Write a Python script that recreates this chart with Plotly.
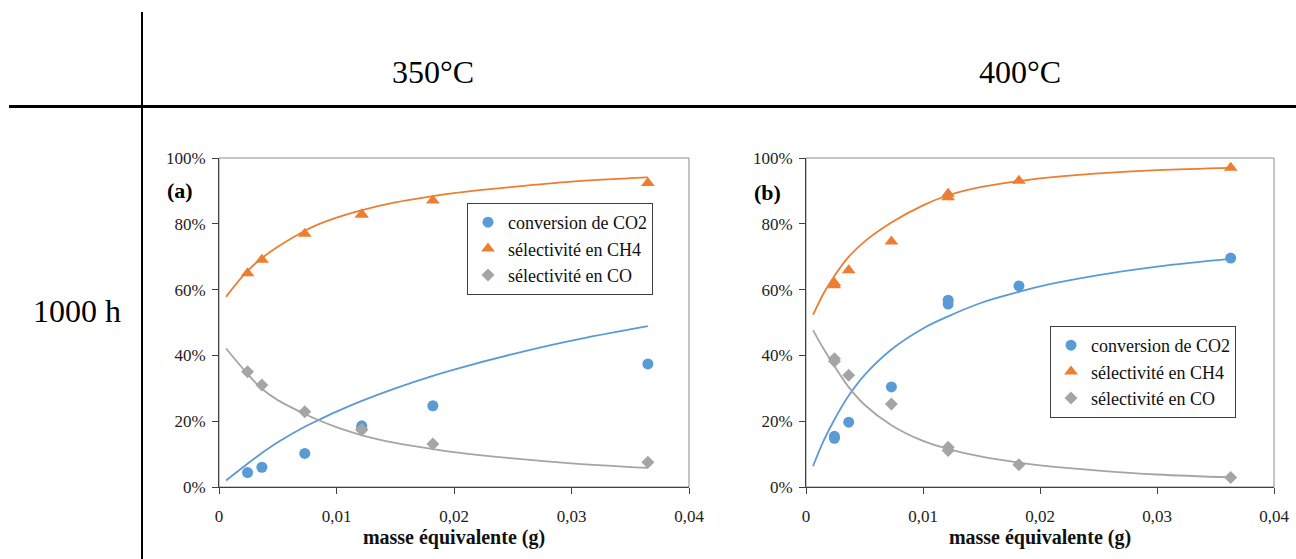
import plotly.graph_objects as go

# ---------------- data ----------------
headers = ["350°C", "400°C"]
row_label = "1000 h"
panel_labels = ["(a)", "(b)"]
series_names = ["conversion de CO2", "sélectivité en CH4", "sélectivité en CO"]

x_tick_vals = [0, 0.01, 0.02, 0.03, 0.04]
x_tick_text = ["0", "0,01", "0,02", "0,03", "0,04"]
y_tick_vals = [0, 20, 40, 60, 80, 100]
y_tick_text = ["0%", "20%", "40%", "60%", "80%", "100%"]
x_title = "masse équivalente (g)"

# panel (a) 350°C - measured points
a_x = [0.00243, 0.00365, 0.0073, 0.01215, 0.01215, 0.0182, 0.0365]
a_co2 = [4.4, 6.0, 10.2, 18.0, 18.6, 24.7, 37.4]
a_ch4 = [65.0, 69.1, 77.0, 82.8, 82.8, 87.1, 92.4]
a_co = [35.0, 31.0, 22.9, 17.4, 17.4, 13.1, 7.5]

# panel (a) trend curves
a_fit_x = [0.0006, 0.0024, 0.0036, 0.0050, 0.0073, 0.0085, 0.0100, 0.0121, 0.0150, 0.0182, 0.0200, 0.0250, 0.0300, 0.0365]
a_fit_co2 = [2.0, 7.0, 10.2, 13.6, 18.3, 20.4, 22.9, 26.1, 30.0, 33.8, 35.7, 40.4, 44.5, 48.9]
a_fit_ch4 = [57.8, 65.6, 69.4, 73.0, 77.9, 79.9, 81.9, 84.1, 86.5, 88.4, 89.3, 91.2, 92.8, 94.1]
a_fit_co = [42.1, 34.5, 30.0, 26.4, 22.2, 20.3, 18.2, 15.8, 13.4, 11.5, 10.6, 8.7, 7.2, 5.8]

# panel (b) 400°C - measured points
b_x = [0.00243, 0.00243, 0.00365, 0.0073, 0.01215, 0.01215, 0.0182, 0.0363]
b_co2 = [14.8, 15.4, 19.7, 30.4, 56.8, 55.6, 61.1, 69.6]
b_ch4 = [62.0, 61.3, 65.9, 74.6, 89.1, 88.1, 93.1, 97.0]
b_co = [38.2, 39.0, 34.0, 25.2, 12.1, 11.1, 6.8, 2.9]

# panel (b) trend curves
b_fit_x = [0.0006, 0.0015, 0.0024, 0.0036, 0.0050, 0.0073, 0.0100, 0.0121, 0.0150, 0.0182, 0.0200, 0.0250, 0.0300, 0.0365]
b_fit_co2 = [6.3, 14.0, 20.3, 27.5, 34.0, 41.8, 48.2, 51.8, 56.0, 59.3, 61.0, 64.4, 67.0, 69.4]
b_fit_ch4 = [52.3, 58.8, 64.0, 69.8, 74.6, 80.4, 85.6, 88.6, 91.2, 93.0, 93.8, 95.3, 96.3, 97.0]
b_fit_co = [47.7, 42.0, 36.9, 30.6, 25.0, 18.8, 14.0, 11.6, 9.2, 7.4, 6.6, 5.0, 3.8, 2.9]

# ---------------- styles ----------------
BLUE = "#5B9BD5"
ORANGE = "#ED7D31"
GREY = "#A5A5A5"
FONT = "Liberation Serif"
W, H = 1296, 559

fig = go.Figure()

panels = [
    ("x", "y", "legend", a_x, a_co2, a_ch4, a_co, a_fit_x, a_fit_co2, a_fit_ch4, a_fit_co),
    ("x2", "y2", "legend2", b_x, b_co2, b_ch4, b_co, b_fit_x, b_fit_co2, b_fit_ch4, b_fit_co),
]
for xa, ya, leg, px, pco2, pch4, pco, fx, fco2, fch4, fco in panels:
    for fy, col in [(fco2, BLUE), (fch4, ORANGE), (fco, GREY)]:
        fig.add_trace(go.Scatter(x=fx, y=fy, mode="lines", line=dict(color=col, width=1.8, shape="spline", smoothing=1.0),
                                 xaxis=xa, yaxis=ya, showlegend=False, hoverinfo="skip"))
    for name, py, col, sym, sz in [(series_names[0], pco2, BLUE, "circle", 11),
                                   (series_names[1], pch4, ORANGE, "triangle-up", 12),
                                   (series_names[2], pco, GREY, "diamond", 10)]:
        fig.add_trace(go.Scatter(x=px, y=py, mode="markers", name=name,
                                 marker=dict(color=col, symbol=sym, size=sz, line=dict(width=0)),
                                 xaxis=xa, yaxis=ya, legend=leg))

# axis domains (paper fractions from pixel positions)
ax_a = (219 / W, 689 / W)
ax_b = (806 / W, 1274 / W)
y_dom = (1 - 487 / H, 1 - 158 / H)

axis_common = dict(showgrid=False, zeroline=False, showline=True, linecolor="#404040", linewidth=1,
                   ticks="outside", ticklen=6, tickcolor="#404040", automargin=False,
                   tickfont=dict(family=FONT, size=17, color="#222"))

title_font = dict(family=FONT, size=20, color="#111")
legend_common = dict(xanchor="center", yanchor="top", bgcolor="white",
                     bordercolor="#404040", borderwidth=1, font=dict(family=FONT, size=18, color="#111"),
                     itemwidth=30, tracegroupgap=6)

xaxis_extra = dict(range=[0, 0.04], tickvals=x_tick_vals, ticktext=x_tick_text, ticklabelstandoff=8,
                   title=dict(text="<b>" + x_title + "</b>", font=title_font, standoff=0))
yaxis_extra = dict(domain=y_dom, range=[0, 100], tickvals=y_tick_vals, ticktext=y_tick_text, ticklabelstandoff=3)

fig.update_layout(
    width=W, height=H, margin=dict(l=0, r=0, t=0, b=0, pad=0, autoexpand=False),
    paper_bgcolor="white", plot_bgcolor="white",
    xaxis=dict(domain=ax_a, anchor="y", **xaxis_extra, **axis_common),
    yaxis=dict(anchor="x", **yaxis_extra, **axis_common),
    xaxis2=dict(domain=ax_b, anchor="y2", **xaxis_extra, **axis_common),
    yaxis2=dict(anchor="x2", **yaxis_extra, **axis_common),
    legend=dict(x=560 / W, y=1 - 203 / H, **legend_common),
    legend2=dict(x=1143 / W, y=1 - 326 / H, **legend_common),
    showlegend=True,
)

# plot-area frames (top/right in grey)
for xr, yr in [("x domain", "y domain"), ("x2 domain", "y2 domain")]:
    fig.add_shape(type="rect", xref=xr, yref=yr, x0=0, x1=1, y0=0, y1=1,
                  line=dict(color="#8c8c8c", width=1), layer="below")

# table lines
fig.add_shape(type="line", xref="paper", yref="paper", x0=9 / W, x1=1, y0=1 - 106.5 / H, y1=1 - 106.5 / H,
              line=dict(color="black", width=3))
fig.add_shape(type="line", xref="paper", yref="paper", x0=142 / W, x1=142 / W, y0=0, y1=1 - 12 / H,
              line=dict(color="black", width=2))

# headers and labels
def label(text, px, py, size, bold=False):
    fig.add_annotation(text=("<b>" + text + "</b>") if bold else text, x=px / W, y=1 - py / H,
                       xref="paper", yref="paper", xanchor="center", yanchor="middle", showarrow=False,
                       font=dict(family=FONT, size=size, color="black"))

label(headers[0], 433, 72, 32)
label(headers[1], 1020, 72, 32)
label(row_label, 77, 311, 32)
label(panel_labels[0], 180, 190, 22, bold=True)
label(panel_labels[1], 767, 192, 22, bold=True)

fig.write_html(
    "out.html",
    config={"displayModeBar": False},
    post_script=(
        "document.documentElement.style.margin='0';document.documentElement.style.overflow='hidden';"
        "document.body.style.margin='0';document.body.style.padding='0';document.body.style.overflow='hidden';"
    ),
)
